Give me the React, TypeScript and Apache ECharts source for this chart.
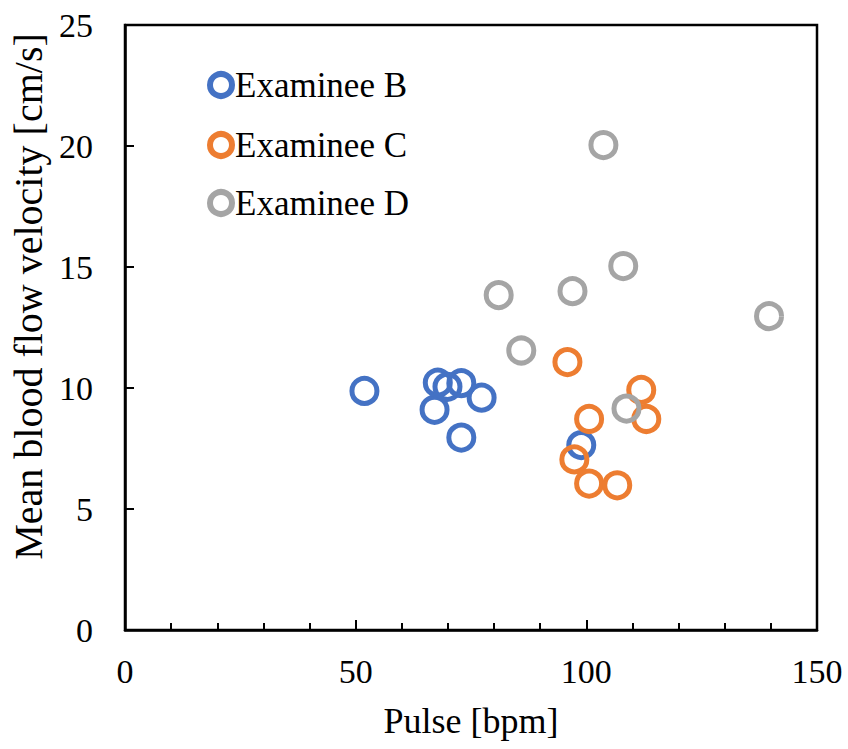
import React, { useEffect, useRef } from "react";
import * as echarts from "echarts";

const seriesNames = ["Examinee B", "Examinee C", "Examinee D"];
const seriesColors = ["#4472C4", "#ED7D31", "#A5A5A5"];

const examineeB: number[][] = [
  [51.9, 9.88],
  [67.1, 9.1],
  [67.8, 10.22],
  [69.9, 10.05],
  [72.9, 10.2],
  [77.3, 9.6],
  [72.9, 7.95],
  [98.9, 7.64],
];
const examineeC: number[][] = [
  [95.9, 11.07],
  [111.9, 9.92],
  [100.6, 8.72],
  [113.0, 8.72],
  [97.4, 7.05],
  [100.6, 6.05],
  [106.7, 5.98],
];
const examineeD: number[][] = [
  [103.7, 20.04],
  [108.0, 15.04],
  [97.0, 14.0],
  [81.0, 13.84],
  [139.6, 12.97],
  [85.9, 11.55],
  [108.7, 9.15],
];

const xTicks = { min: 0, max: 150, interval: 50 };
const yTicks = { min: 0, max: 25, interval: 5 };

const FONT = "Liberation Serif";

export default function App() {
  const ref = useRef<HTMLDivElement>(null);
  useEffect(() => {
    if (!ref.current) return;
    const chart = echarts.init(ref.current, undefined, { renderer: "svg" });
    const data = [examineeB, examineeC, examineeD];
    const legendTops = [67, 127, 185];
    chart.setOption({
      animation: false,
      backgroundColor: "#fff",
      grid: {
        left: 125,
        right: 31,
        top: 25,
        bottom: 119,
        show: true,
        borderColor: "#000",
        borderWidth: 2.5,
      },
      legend: seriesNames.map((n, i) => ({
        left: 207,
        top: legendTops[i],
        padding: 0,
        selectedMode: false,
        itemWidth: 22,
        itemHeight: 22,
        itemGap: 5,
        icon: "circle",
        textStyle: {
          fontFamily: FONT,
          fontSize: 35,
          color: "#000",
          lineHeight: 36,
          padding: [0, 0, 0, -2],
        },
        data: [
          {
            name: n,
            icon: "circle",
            itemStyle: {
              color: "rgba(255,255,255,0)",
              borderColor: seriesColors[i],
              borderWidth: 6,
            },
          },
        ],
      })),
      xAxis: {
        type: "value",
        min: xTicks.min,
        max: xTicks.max,
        interval: xTicks.interval,
        name: "Pulse [bpm]",
        nameLocation: "middle",
        nameGap: 73,
        nameTextStyle: { fontFamily: FONT, fontSize: 36, color: "#000" },
        axisLine: { show: true, lineStyle: { color: "#000", width: 2.5 } },
        axisTick: { show: true, inside: true, length: 10, lineStyle: { color: "#000", width: 2 } },
        minorTick: { show: true, splitNumber: 5, length: 7, lineStyle: { color: "#000", width: 2 } },
        splitLine: { show: false },
        minorSplitLine: { show: false },
        axisLabel: { fontFamily: FONT, fontSize: 34, color: "#000", margin: 24 },
      },
      yAxis: {
        type: "value",
        min: yTicks.min,
        max: yTicks.max,
        interval: yTicks.interval,
        name: "Mean blood flow velocity [cm/s]",
        nameLocation: "middle",
        nameGap: 73,
        nameTextStyle: {
          fontFamily: FONT,
          fontSize: 40,
          color: "#000",
          padding: [0, 0, 0, 62],
        },
        axisLine: { show: true, lineStyle: { color: "#000", width: 2.5 } },
        axisTick: { show: true, inside: true, length: 9, lineStyle: { color: "#000", width: 2 } },
        splitLine: { show: false },
        axisLabel: { fontFamily: FONT, fontSize: 34, color: "#000", margin: 32 },
      },
      series: seriesNames.map((n, i) => ({
        name: n,
        type: "scatter",
        symbol: "circle",
        symbolSize: 25,
        data: data[i],
        itemStyle: {
          color: "rgba(255,255,255,0)",
          borderColor: seriesColors[i],
          borderWidth: 5,
          opacity: 1,
        },
        emphasis: { disabled: true },
      })),
    });
    return () => chart.dispose();
  }, []);
  return <div ref={ref} style={{ width: 848, height: 749, position: "absolute", left: 0, top: 0 }} />;
}
